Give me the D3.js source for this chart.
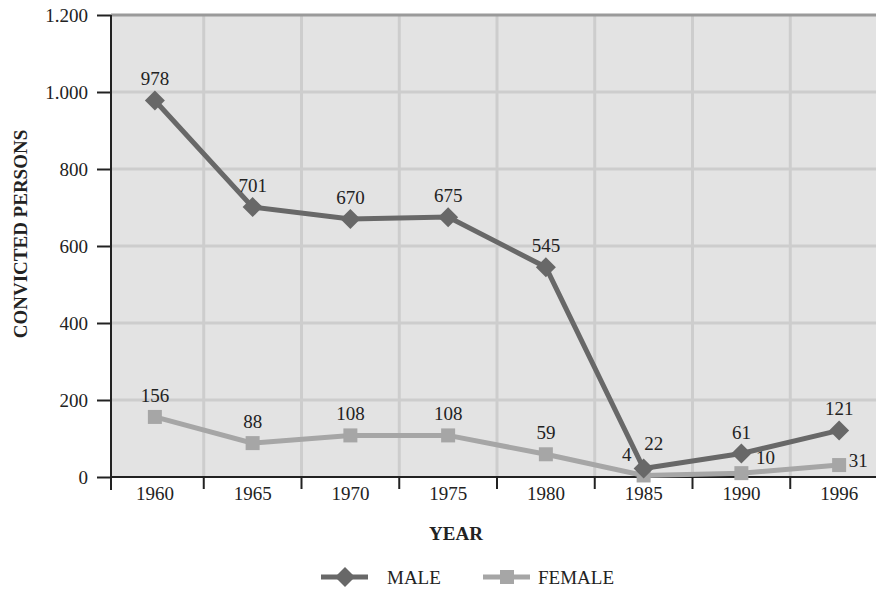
<!DOCTYPE html>
<html>
<head>
<meta charset="utf-8">
<script src="https://cdn.jsdelivr.net/npm/d3@7"></script>
<style>
	body{margin:0;background:#fff;font-family:'Liberation Serif',serif;}
	.axis path{display:none;}
	.title{font-size:19px;font-weight:bold;}
	.lbl{font-size:19px;}
</style>
</head>
<body>
<div id="chart"></div>
<script>
const years = ['1960','1965','1970','1975','1980','1985','1990','1996'];
const male = [978,701,670,675,545,22,61,121];
const female = [156,88,108,108,59,4,10,31];
const yTicks = [0,200,400,600,800,1000,1200];

// label offsets per point [dx,dy] relative to marker, default is above
const maleLabelPos = {5:[10,-19]};
const femaleLabelPos = {5:[-17,-14],6:[24,-9],7:[19,2]};

const width = 876, height = 590;
const margin = {top:15,left:111,bottom:113};
const plotBottom = height - margin.bottom;
const serif = "'Liberation Serif','DejaVu Serif',serif";

const svg = d3.select('#chart').append('svg')
	.attr('width',width)
	.attr('height',height)
	.attr('font-family',serif)
	.style('font-family',serif);

const x = d3.scaleBand().domain(years).range([106,888]);
const y = d3.scaleLinear().domain([0,1200]).range([plotBottom, margin.top]);

// background
svg.append('rect')
	.attr('x',margin.left)
	.attr('y',margin.top)
	.attr('width',width-margin.left)
	.attr('height',plotBottom-margin.top)
	.style('fill','#e3e3e3');

// horizontal grid
svg.append('g').selectAll('line').data(yTicks.slice(1,-1)).enter().append('line')
	.attr('x1',margin.left).attr('x2',width)
	.attr('y1',d => y(d)).attr('y2',d => y(d))
	.style('stroke','#cdcdcd').style('stroke-width',3);

// vertical grid on band edges
const edges = years.slice(1).map(d => x(d));
svg.append('g').selectAll('line').data(edges).enter().append('line')
	.attr('x1',d => d).attr('x2',d => d)
	.attr('y1',margin.top).attr('y2',plotBottom)
	.style('stroke','#cdcdcd').style('stroke-width',3);

// top border
svg.append('line')
	.attr('x1',margin.left).attr('x2',width)
	.attr('y1',y(1200)).attr('y2',y(1200))
	.style('stroke','#9a9a9a').style('stroke-width',3);

// y axis
const yAxis = svg.append('g')
	.attr('class','axis y')
	.attr('transform',`translate(${margin.left},0)`)
	.call(d3.axisLeft(y).tickValues(yTicks).tickSize(14).tickPadding(9)
		.tickFormat(d => d3.format(',')(d).replace(',','.')));

yAxis.selectAll('line').style('stroke','#222').style('stroke-width',2);
yAxis.selectAll('text')
	.attr('font-family',serif)
	.style('font-size','19px')
	.style('fill','#222');

svg.append('line')
	.attr('x1',margin.left).attr('x2',margin.left)
	.attr('y1',margin.top).attr('y2',plotBottom+13)
	.style('stroke','#222').style('stroke-width',2);

// x axis, ticks sit on band edges
svg.append('line')
	.attr('x1',margin.left).attr('x2',width)
	.attr('y1',plotBottom).attr('y2',plotBottom)
	.style('stroke','#222').style('stroke-width',2);

svg.append('g').selectAll('line').data(edges).enter().append('line')
	.attr('x1',d => d).attr('x2',d => d)
	.attr('y1',plotBottom).attr('y2',plotBottom+12)
	.style('stroke','#222').style('stroke-width',2);

svg.append('g').attr('class','axis x').selectAll('text').data(years).enter().append('text')
	.attr('x',d => x(d)+x.bandwidth()/2)
	.attr('y',plotBottom+23)
	.attr('text-anchor','middle')
	.style('font-size','19px')
	.style('fill','#222')
	.text(d => d);

// titles
svg.append('text')
	.attr('class','title')
	.attr('transform','translate(27,234) rotate(-90)')
	.attr('text-anchor','middle')
	.style('fill','#222')
	.text('CONVICTED PERSONS');

svg.append('text')
	.attr('class','title')
	.attr('x',456).attr('y',540)
	.attr('text-anchor','middle')
	.style('fill','#222')
	.text('YEAR');

const cx = d => x(d)+x.bandwidth()/2;

function drawSeries(vals, color, shape, pos){
	const pts = years.map((d,i) => ({year:d,value:vals[i],i:i}));
	const line = d3.line().x(d => cx(d.year)).y(d => y(d.value));

	svg.append('path')
		.datum(pts)
		.attr('d',line)
		.style('fill','none')
		.style('stroke',color)
		.style('stroke-width',5);

	svg.append('g').selectAll('path').data(pts).enter().append('path')
		.attr('transform',d => `translate(${cx(d.year)},${y(d.value)})`)
		.attr('d',shape)
		.style('fill',color);

	svg.append('g').selectAll('text').data(pts).enter().append('text')
		.attr('class','lbl')
		.attr('x',d => cx(d.year) + (pos[d.i] ? pos[d.i][0] : 0))
		.attr('y',d => y(d.value) + (pos[d.i] ? pos[d.i][1] : -15))
		.attr('text-anchor','middle')
		.style('fill','#222')
		.text(d => d.value);
}

const diamond = 'M0,-10L10,0L0,10L-10,0Z';
const square = 'M-7,-7H7V7H-7Z';

drawSeries(female,'#a6a6a6',square,femaleLabelPos);
drawSeries(male,'#686868',diamond,maleLabelPos);

// legend
const legend = svg.append('g').attr('transform','translate(0,577)');
const items = [
	{name:'MALE',color:'#686868',shape:diamond,x:321,tx:387},
	{name:'FEMALE',color:'#a6a6a6',shape:square,x:483,tx:538}
];
items.forEach(it => {
	legend.append('line')
		.attr('x1',it.x).attr('x2',it.x+47)
		.style('stroke',it.color).style('stroke-width',5);
	legend.append('path')
		.attr('transform',`translate(${it.x+24},0)`)
		.attr('d',it.shape)
		.style('fill',it.color);
	legend.append('text')
		.attr('x',it.tx).attr('y',7)
		.style('font-size','19px')
		.style('fill','#222')
		.text(it.name);
});
</script>
</body>
</html>
